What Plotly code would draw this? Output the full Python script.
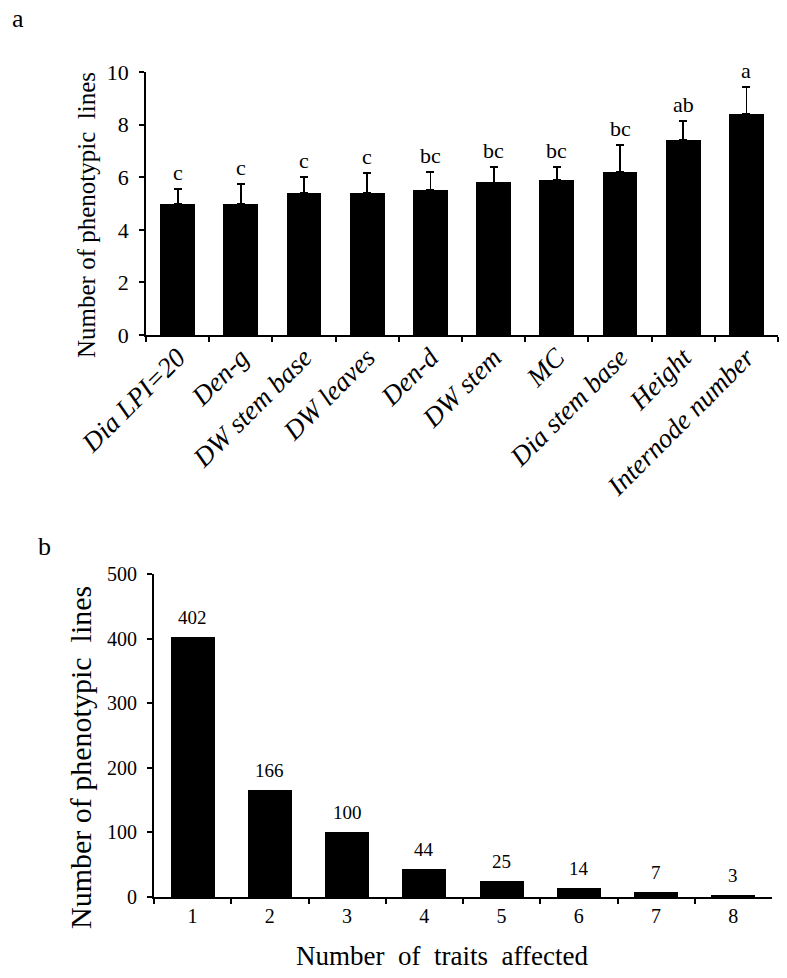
import plotly.graph_objects as go

# Panel a data
traits = ["Dia LPI=20", "Den-g", "DW stem base", "DW leaves", "Den-d",
          "DW stem", "MC", "Dia stem base", "Height", "Internode number"]
means = [5.0, 5.0, 5.4, 5.4, 5.5, 5.8, 5.9, 6.2, 7.4, 8.4]
errors = [0.54, 0.74, 0.6, 0.75, 0.71, 0.6, 0.48, 1.02, 0.75, 1.04]
letters = ["c", "c", "c", "c", "bc", "bc", "bc", "bc", "ab", "a"]

# Panel b data
n_traits = ["1", "2", "3", "4", "5", "6", "7", "8"]
n_lines = [402, 166, 100, 44, 25, 14, 7, 3]

W, H = 787, 978
SERIF = "Liberation Serif, Times New Roman, serif"

def px(x):
    return x / W

def py(y):
    return 1 - y / H

fig = go.Figure()

fig.add_trace(go.Bar(
    x=traits, y=means, width=0.55,
    marker=dict(color="black", line=dict(color="black", width=0)),
    error_y=dict(type="data", array=errors, symmetric=False, arrayminus=[0]*len(errors),
                 color="black", thickness=1.8, width=4),
    xaxis="x", yaxis="y", showlegend=False,
))

fig.add_trace(go.Bar(
    x=n_traits, y=n_lines, width=0.57,
    marker=dict(color="black", line=dict(color="black", width=0)),
    xaxis="x2", yaxis="y2", showlegend=False,
))

annotations = []
for i, (m, e, l) in enumerate(zip(means, errors, letters)):
    annotations.append(dict(x=i, y=m + e, xref="x", yref="y", text=l, showarrow=False,
                            xanchor="center", yanchor="bottom", yshift=2,
                            font=dict(family=SERIF, size=22, color="black")))
for i, v in enumerate(n_lines):
    annotations.append(dict(x=i, y=v, xref="x2", yref="y2", text=str(v), showarrow=False,
                            xanchor="center", yanchor="bottom", yshift=7,
                            font=dict(family=SERIF, size=19, color="black")))

def paper_text(x, y, text, size, angle=0):
    return dict(x=px(x), y=py(y), xref="paper", yref="paper", text=text, showarrow=False,
                xanchor="center", yanchor="middle", textangle=angle,
                font=dict(family=SERIF, size=size, color="black"))

annotations += [
    paper_text(18, 18, "a", 26),
    paper_text(44, 546, "b", 26),
    paper_text(86, 215, "Number of phenotypic\u00a0 lines", 25, -90),
    paper_text(80, 758, "Number of phenotypic\u00a0 lines", 30, -90),
    paper_text(442, 956, "Number\u00a0 of\u00a0 traits\u00a0 affected", 27),
]

axis_common = dict(showline=True, linecolor="black", linewidth=1.8, ticks="outside",
                   tickcolor="black", tickwidth=1.8, ticklen=5, showgrid=False,
                   zeroline=False, automargin=False)

fig.update_layout(
    width=W, height=H,
    margin=dict(l=0, r=0, t=0, b=0, autoexpand=False),
    paper_bgcolor="white", plot_bgcolor="white",
    bargap=0,
    xaxis=dict(domain=[px(146), px(778)], anchor="y", type="category", tickson="boundaries",
               range=[-0.5, 9.5], tickangle=-45, ticklabelstandoff=-6,
               tickfont=dict(family=SERIF, size=27, color="black", style="italic"),
               **axis_common),
    yaxis=dict(domain=[py(335), py(72)], anchor="x", range=[0, 10],
               tickvals=[0, 2, 4, 6, 8, 10], ticklabelstandoff=6,
               tickfont=dict(family=SERIF, size=22, color="black"),
               **axis_common),
    xaxis2=dict(domain=[px(154), px(772)], anchor="y2", type="category", tickson="boundaries",
                range=[-0.5, 7.5],
                tickfont=dict(family=SERIF, size=20, color="black"),
                **axis_common),
    yaxis2=dict(domain=[py(897), py(574)], anchor="x2", range=[0, 500],
                tickvals=[0, 100, 200, 300, 400, 500], ticklabelstandoff=6,
                tickfont=dict(family=SERIF, size=20, color="black"),
                **axis_common),
    annotations=annotations,
)

fig.write_html("out.html", config={"displayModeBar": False},
               post_script="document.body.style.margin='0px';document.body.style.overflow='hidden';")
